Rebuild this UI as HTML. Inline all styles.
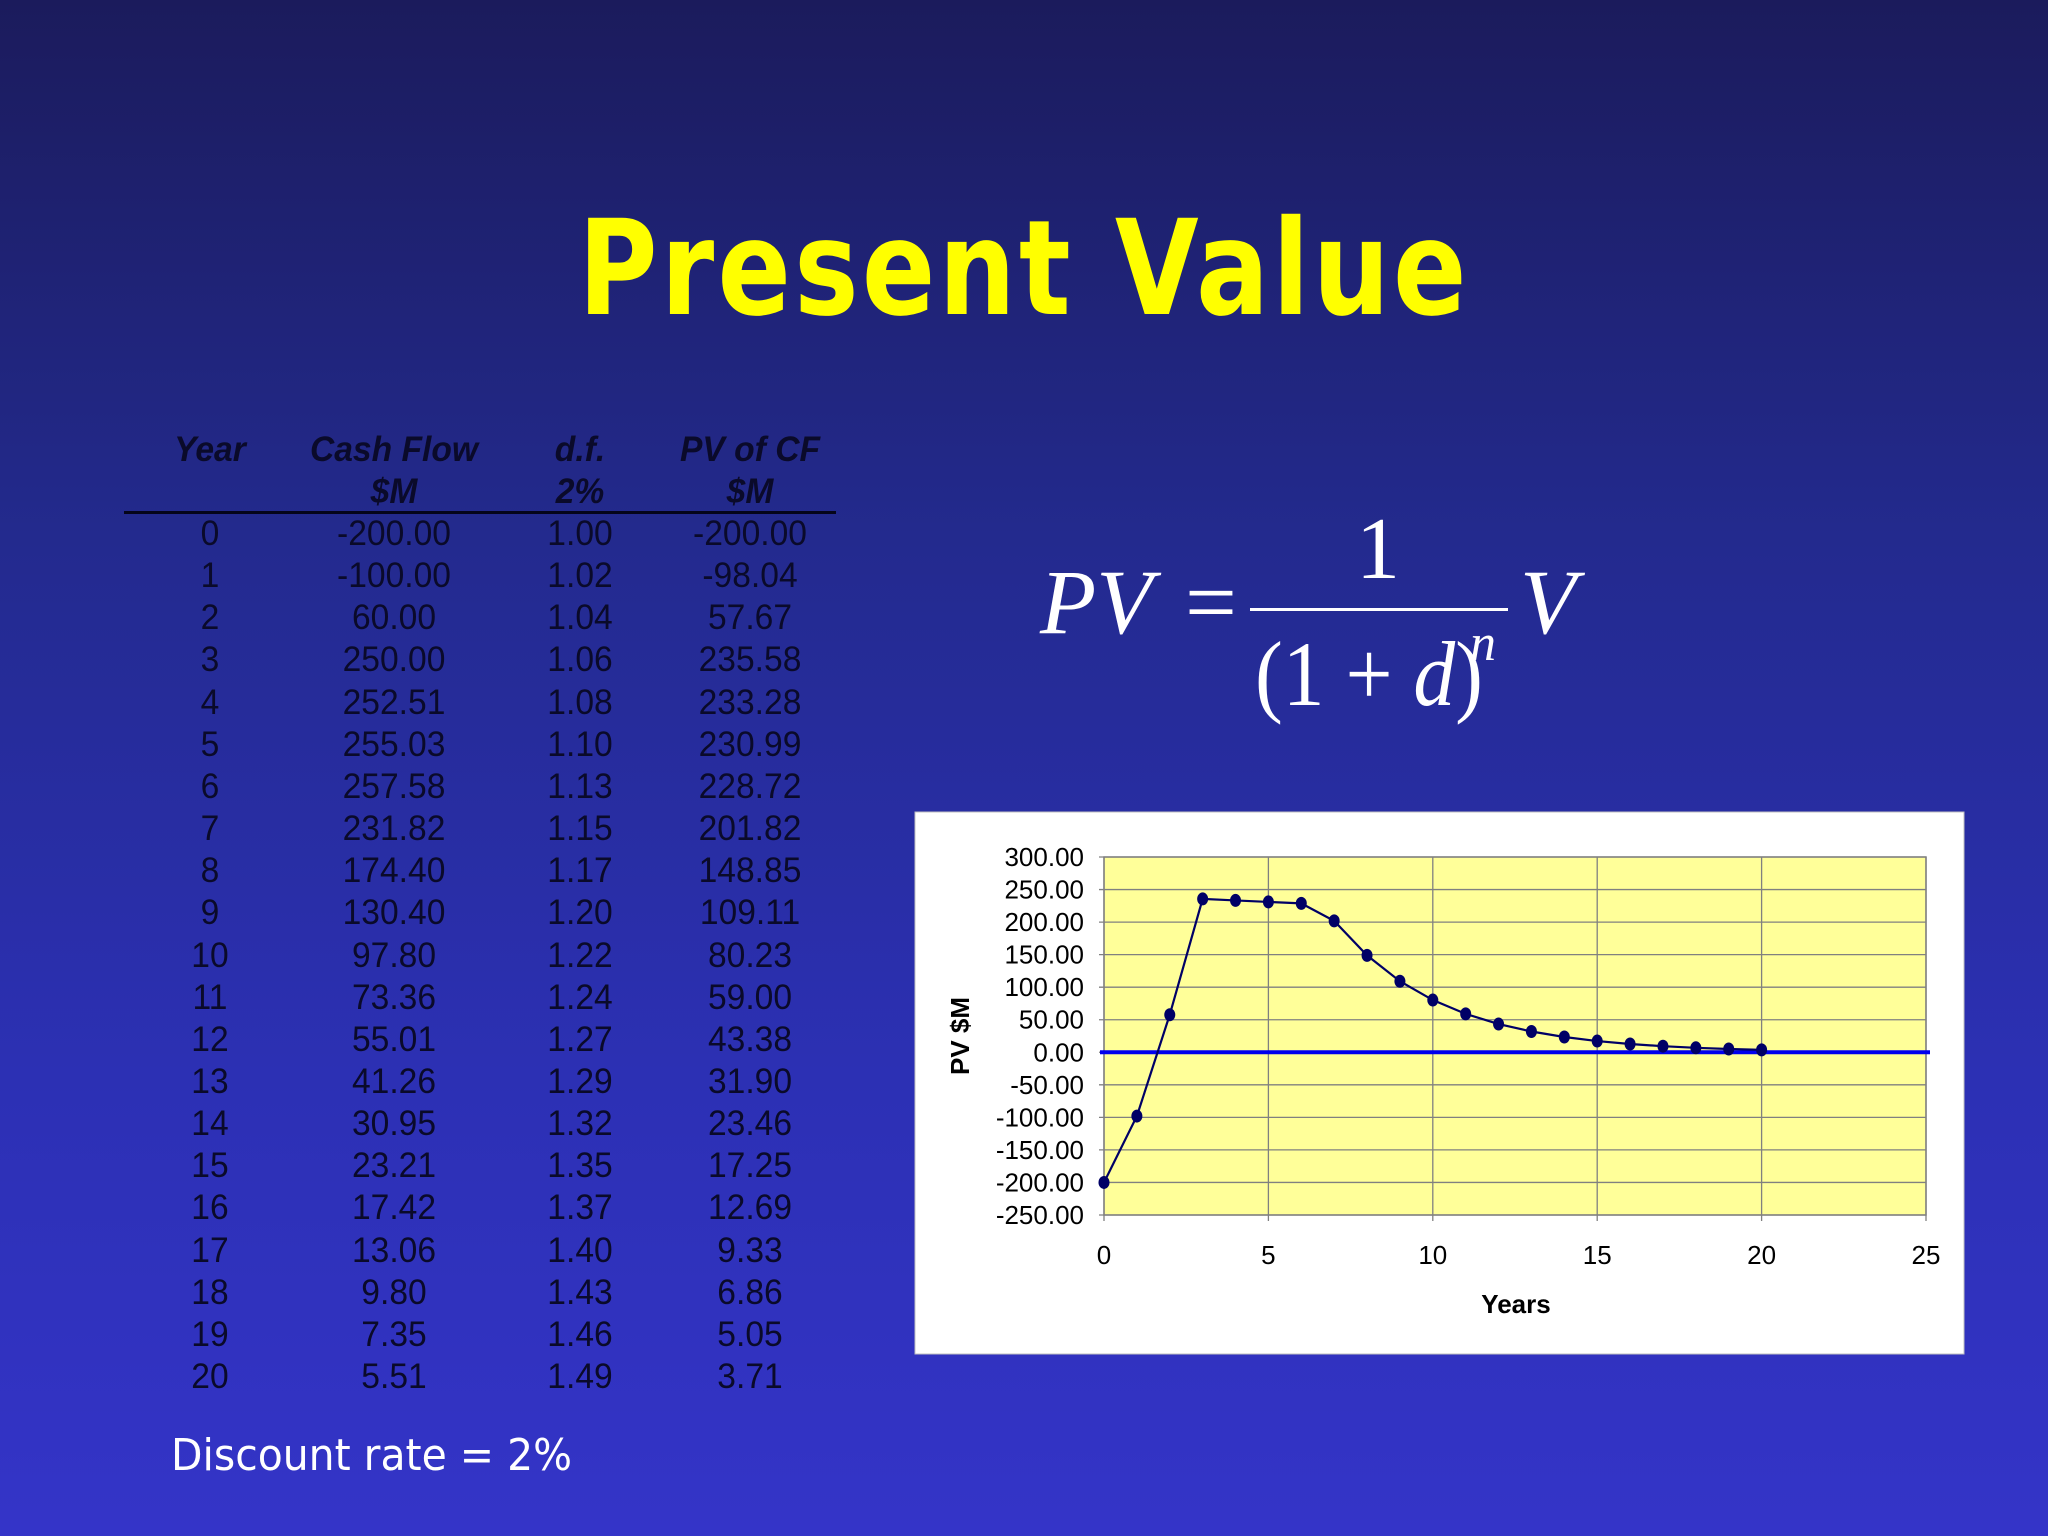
<!DOCTYPE html>
<html><head><meta charset="utf-8">
<style>
html,body{margin:0;padding:0}
body{width:2048px;height:1536px;overflow:hidden;background:linear-gradient(180deg,#1b1b5c 0%,#232a8e 35%,#2c30b4 70%,#3434c8 100%);position:relative;font-family:"Liberation Sans",sans-serif}
#title{position:absolute;left:0;width:2048px;top:192px;text-align:center;color:#ffff00;font-weight:bold;font-size:132px;letter-spacing:4px;font-family:"DejaVu Sans","Liberation Sans",sans-serif;transform:scaleX(0.82)}
.cell{position:absolute;width:200px;text-align:center;color:#0a0a2a;font-size:35px;font-family:"Liberation Sans",sans-serif;transform:scaleX(0.96)}
.hd{font-weight:bold;font-style:italic}
#rule{position:absolute;left:124px;top:511px;width:712px;height:3px;background:#05051a}
#disc{position:absolute;left:171px;top:1430px;color:#fff;font-size:44px;font-family:"DejaVu Sans",sans-serif;transform-origin:0 0;transform:scaleX(0.93)}
</style></head><body>
<div id="title">Present Value</div>
<div id="table"></div>
<div id="rule"></div>
<svg id="formula" width="2048" height="1536" style="position:absolute;left:0;top:0" font-family="Liberation Serif, serif" fill="#fff">
<text x="1040" y="633" font-size="92" font-style="italic">PV</text>
<text x="1185" y="633" font-size="92">=</text>
<rect x="1250" y="608" width="258" height="3" fill="#fff"/>
<text x="1378" y="578" font-size="88" text-anchor="middle">1</text>
<text x="1255" y="705" font-size="92" textLength="228" lengthAdjust="spacingAndGlyphs">(1 + <tspan font-style="italic">d</tspan>)</text>
<text x="1470" y="660" font-size="52" font-style="italic">n</text>
<text x="1520" y="633" font-size="92" font-style="italic">V</text>
</svg>
<div id="disc">Discount rate = 2%</div>
<svg id="chart" width="2048" height="1536" style="position:absolute;left:0;top:0" font-family="Liberation Sans, sans-serif"></svg>
<script>
const years=[0,1,2,3,4,5,6,7,8,9,10,11,12,13,14,15,16,17,18,19,20];
const cashFlow=["-200.00","-100.00","60.00","250.00","252.51","255.03","257.58","231.82","174.40","130.40","97.80","73.36","55.01","41.26","30.95","23.21","17.42","13.06","9.80","7.35","5.51"];
const discFactor=["1.00","1.02","1.04","1.06","1.08","1.10","1.13","1.15","1.17","1.20","1.22","1.24","1.27","1.29","1.32","1.35","1.37","1.40","1.43","1.46","1.49"];
const pvValues=[-200.00,-98.04,57.67,235.58,233.28,230.99,228.72,201.82,148.85,109.11,80.23,59.00,43.38,31.90,23.46,17.25,12.69,9.33,6.86,5.05,3.71];
const yTicks=[300,250,200,150,100,50,0,-50,-100,-150,-200,-250];
const xTicks=[0,5,10,15,20,25];

const tbl=document.getElementById('table');
const colX=[210,394,580,750];
function cell(txt,cx,y,cls,name){
  const d=document.createElement('div');
  d.className='cell'+(cls?' '+cls:'');
  d.style.left=(cx-100)+'px';d.style.top=(y-36)+'px';d.textContent=txt;
  
  
  tbl.appendChild(d);
}
const h1=['Year','Cash Flow','d.f.','PV of CF'],h2=['','$M','2%','$M'];
h1.forEach((t,i)=>cell(t,colX[i],466,'hd','header-'+i));
h2.forEach((t,i)=>{if(t)cell(t,colX[i],508,'hd','subheader-'+i);});
years.forEach((y,i)=>{
  const top=550+i*42.15;
  cell(String(y),colX[0],top,'','year-cell');
  cell(cashFlow[i],colX[1],top,'','cash-flow-cell');
  cell(discFactor[i],colX[2],top,'','df-cell');
  cell(pvValues[i].toFixed(2),colX[3],top,'','pv-cell');
});

const NS='http://www.w3.org/2000/svg';
const svg=document.getElementById('chart');
function el(tag,attrs,name){const e=document.createElementNS(NS,tag);for(const k in attrs)e.setAttribute(k,attrs[k]);
  
  
  svg.appendChild(e);return e;}
const L=1104,R=1926,T=857,B=1215;
const xS=v=>L+(v-0)/25*(R-L);
const yS=v=>T+(300-v)/550*(B-T);
el('rect',{x:915,y:812,width:1049,height:542,fill:'#fff',stroke:'#c0c0c0','stroke-width':1},'chart-background');
el('rect',{x:L,y:T,width:R-L,height:B-T,fill:'#ffff99'},'plot-area');
yTicks.forEach(v=>{
  el('line',{x1:L-5,x2:R,y1:yS(v),y2:yS(v),stroke:'#808080','stroke-width':1.3},'y-gridline');
  const t=el('text',{x:1084,y:yS(v)+9,'text-anchor':'end','font-size':26,fill:'#000'},'y-tick-label');t.textContent=v.toFixed(2);
});
xTicks.forEach(v=>{
  el('line',{x1:xS(v),x2:xS(v),y1:T,y2:B+6,stroke:'#808080','stroke-width':1.3},'x-gridline');
  const t=el('text',{x:xS(v),y:1264,'text-anchor':'middle','font-size':26,fill:'#000'},'x-tick-label');t.textContent=v;
});
el('rect',{x:L,y:T,width:R-L,height:B-T,fill:'none',stroke:'#808080','stroke-width':1.5},'plot-border');
el('line',{x1:L-4,x2:R+4,y1:yS(0),y2:yS(0),stroke:'#0000ee','stroke-width':4},'zero-line');
el('polyline',{points:years.map((y,i)=>xS(y)+','+yS(pvValues[i])).join(' '),fill:'none',stroke:'#000066','stroke-width':2.2},'pv-series-line');
years.forEach((y,i)=>el('ellipse',{cx:xS(y),cy:yS(pvValues[i]),rx:5.5,ry:6.5,fill:'#000066'},'pv-point'));
const xt=el('text',{x:1516,y:1313,'text-anchor':'middle','font-size':26,'font-weight':'bold',fill:'#000'},'x-axis-title');xt.textContent='Years';
const yt=el('text',{x:0,y:0,'text-anchor':'middle','font-size':26,'font-weight':'bold',fill:'#000',transform:'translate(969,1036) rotate(-90)'},'y-axis-title');yt.textContent='PV $M';
</script>
</body></html>
